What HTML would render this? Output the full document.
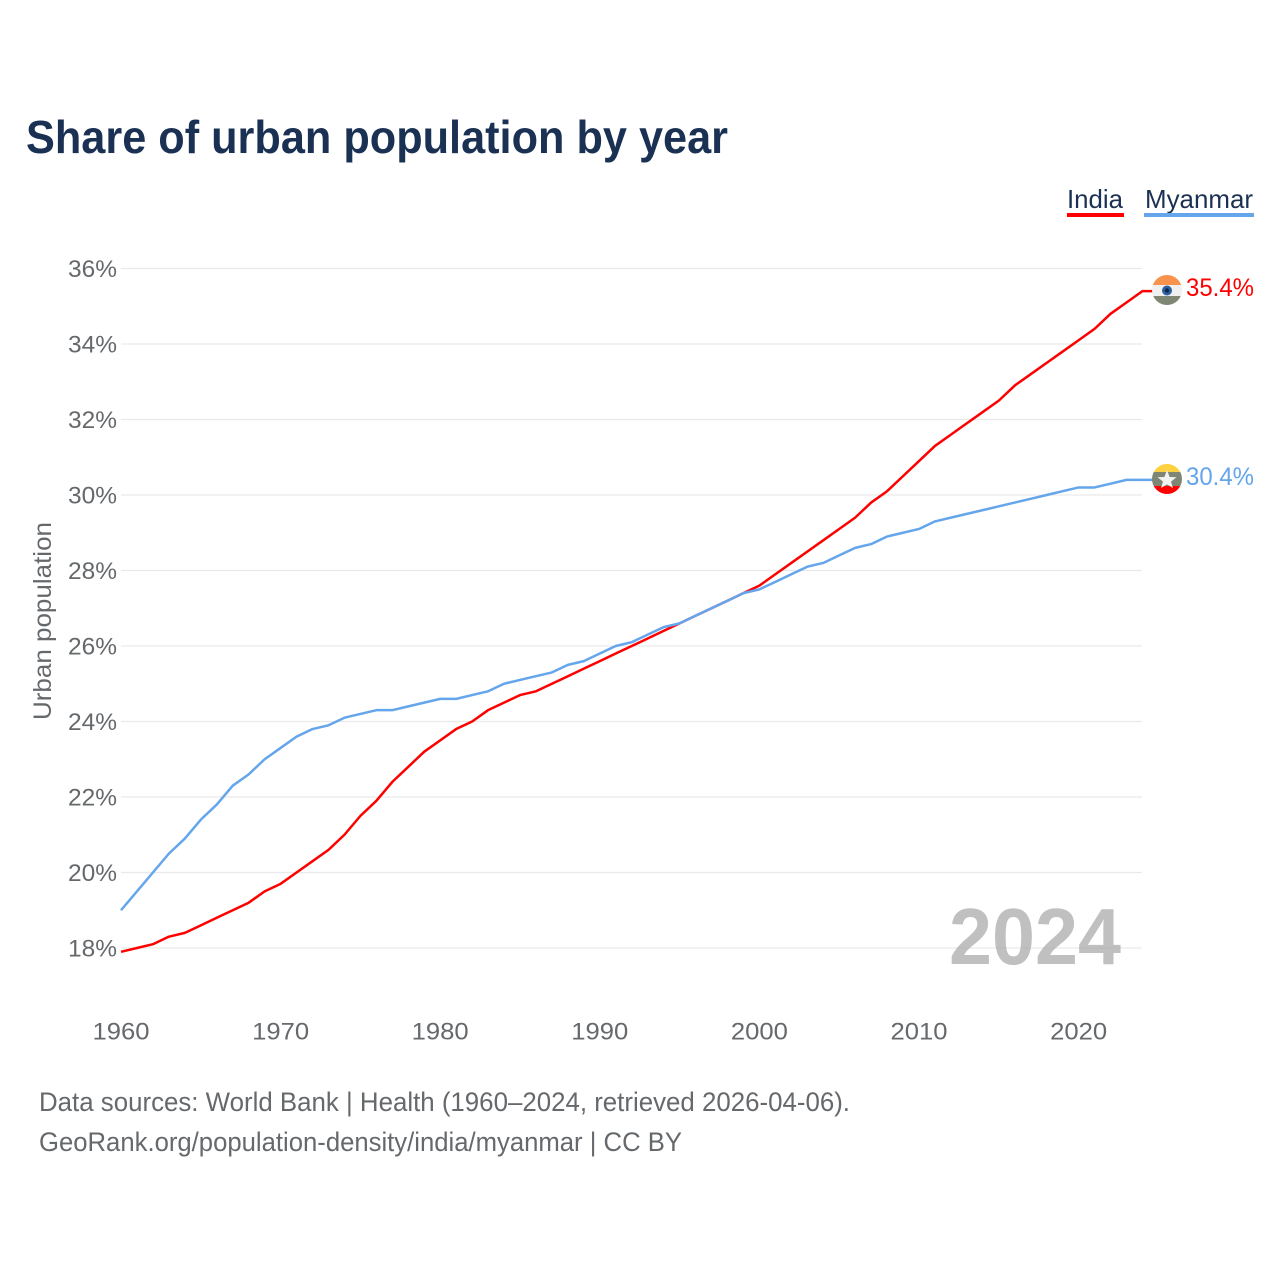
<!DOCTYPE html>
<html lang="en">
<head>
<meta charset="utf-8">
<title>Share of urban population by year</title>
<style>
html,body{margin:0;padding:0;background:#fff;width:1280px;height:1280px;overflow:hidden}
svg{display:block}
text{font-family:"Liberation Sans",sans-serif}
</style>
</head>
<body>
<svg id="chart" xmlns="http://www.w3.org/2000/svg" width="1280" height="1280" viewBox="0 0 1280 1280">
  <defs>
    <clipPath id="clip-india"><circle cx="1167" cy="290" r="15"/></clipPath>
    <clipPath id="clip-myanmar"><circle cx="1167" cy="479" r="15"/></clipPath>
  </defs>
  <text x="26" y="153" font-size="46" font-weight="700" fill="#1b3153" textLength="702" lengthAdjust="spacingAndGlyphs">Share of urban population by year</text>

  <g>
    <g>
      <text x="1067" y="208" font-size="26" fill="#1b3153" textLength="56" lengthAdjust="spacingAndGlyphs">India</text>
      <rect x="1067" y="213" width="57" height="4" fill="#ff0000"/>
    </g>
    <g>
      <text x="1145" y="208" font-size="26" fill="#1b3153" textLength="108" lengthAdjust="spacingAndGlyphs">Myanmar</text>
      <rect x="1144" y="213" width="110" height="4" fill="#64a5ec"/>
    </g>
  </g>

  <g id="grid"></g>
  <g id="y-ticks"></g>
  <g id="x-ticks"></g>

  <text transform="translate(51,621) rotate(-90)" text-anchor="middle" font-size="25" fill="#66696c" textLength="198" lengthAdjust="spacingAndGlyphs">Urban population</text>

  <text x="949" y="964" font-size="80" font-weight="700" fill="#a8a8a8" fill-opacity="0.72" textLength="172" lengthAdjust="spacingAndGlyphs">2024</text>

  <g id="series"></g>

  <g clip-path="url(#clip-india)">
    <rect x="1152" y="275" width="30" height="10" fill="#f8924d"/>
    <rect x="1152" y="285" width="30" height="11" fill="#f0f0f0"/>
    <rect x="1152" y="296" width="30" height="10" fill="#7f8674"/>
    <circle cx="1167" cy="290.5" r="5" fill="#2c5f9e"/>
    <circle cx="1167" cy="290.5" r="2.2" fill="#10254d"/>
  </g>
  <g clip-path="url(#clip-myanmar)">
    <rect x="1152" y="464" width="30" height="8" fill="#fed141"/>
    <rect x="1152" y="472" width="30" height="14" fill="#7f8674"/>
    <rect x="1152" y="486" width="30" height="9" fill="#fe0000"/>
    <polygon points="1167,470 1169.6,477 1176.5,477.2 1171,481.6 1173,488 1167,484.4 1161,488 1163,481.6 1157.5,477.2 1164.4,477" fill="#f2f2f2"/>
  </g>

  <text id="end-label-india" x="1186" y="296" font-size="25" fill="#ff0000" textLength="68" lengthAdjust="spacingAndGlyphs"></text>
  <text id="end-label-myanmar" x="1186" y="485" font-size="25" fill="#64a5ec" textLength="68" lengthAdjust="spacingAndGlyphs"></text>

  <text x="39" y="1111" font-size="27" fill="#66696c" textLength="811" lengthAdjust="spacingAndGlyphs">Data sources: World Bank | Health (1960–2024, retrieved 2026-04-06).</text>
  <text x="39" y="1151" font-size="27" fill="#66696c" textLength="643" lengthAdjust="spacingAndGlyphs">GeoRank.org/population-density/india/myanmar | CC BY</text>
</svg>
<script>
const startYear = 1960;
const indiaValues = [17.9,18.0,18.1,18.3,18.4,18.6,18.8,19.0,19.2,19.5,19.7,20.0,20.3,20.6,21.0,21.5,21.9,22.4,22.8,23.2,23.5,23.8,24.0,24.3,24.5,24.7,24.8,25.0,25.2,25.4,25.6,25.8,26.0,26.2,26.4,26.6,26.8,27.0,27.2,27.4,27.6,27.9,28.2,28.5,28.8,29.1,29.4,29.8,30.1,30.5,30.9,31.3,31.6,31.9,32.2,32.5,32.9,33.2,33.5,33.8,34.1,34.4,34.8,35.1,35.4];
const myanmarValues = [19.0,19.5,20.0,20.5,20.9,21.4,21.8,22.3,22.6,23.0,23.3,23.6,23.8,23.9,24.1,24.2,24.3,24.3,24.4,24.5,24.6,24.6,24.7,24.8,25.0,25.1,25.2,25.3,25.5,25.6,25.8,26.0,26.1,26.3,26.5,26.6,26.8,27.0,27.2,27.4,27.5,27.7,27.9,28.1,28.2,28.4,28.6,28.7,28.9,29.0,29.1,29.3,29.4,29.5,29.6,29.7,29.8,29.9,30.0,30.1,30.2,30.2,30.3,30.4,30.4];
const yTickValues = [18,20,22,24,26,28,30,32,34,36];
const xTickValues = [1960,1970,1980,1990,2000,2010,2020];

const NS = 'http://www.w3.org/2000/svg';
function xScale(year){ return 121 + (year - 1960) * 15.96; }
function yScale(v){ return 948 - (v - 18) * 37.75; }

const gridGroup = document.getElementById('grid');
const yTickGroup = document.getElementById('y-ticks');
const xTickGroup = document.getElementById('x-ticks');
const seriesGroup = document.getElementById('series');

yTickValues.forEach(function(v){
  const line = document.createElementNS(NS, 'line');
  
  
  line.setAttribute('x1', 121);
  line.setAttribute('x2', 1142);
  line.setAttribute('y1', yScale(v));
  line.setAttribute('y2', yScale(v));
  line.setAttribute('stroke', '#e9e9e9');
  line.setAttribute('stroke-width', '1.3');
  gridGroup.appendChild(line);

  const label = document.createElementNS(NS, 'text');
  
  
  label.setAttribute('x', 117);
  label.setAttribute('y', yScale(v) + 8.5);
  label.setAttribute('text-anchor', 'end');
  label.setAttribute('font-size', '24');
  label.setAttribute('fill', '#66696c');
  label.setAttribute('textLength', '49');
  label.setAttribute('lengthAdjust', 'spacingAndGlyphs');
  label.textContent = v + '%';
  yTickGroup.appendChild(label);
});

xTickValues.forEach(function(year){
  const label = document.createElementNS(NS, 'text');
  
  
  label.setAttribute('x', xScale(year));
  label.setAttribute('y', 1039.5);
  label.setAttribute('text-anchor', 'middle');
  label.setAttribute('font-size', '24');
  label.setAttribute('fill', '#66696c');
  label.setAttribute('textLength', '57');
  label.setAttribute('lengthAdjust', 'spacingAndGlyphs');
  label.textContent = year;
  xTickGroup.appendChild(label);
});

function seriesPoints(values){
  const pts = values.map(function(v, i){
    return xScale(startYear + i).toFixed(2) + ',' + yScale(v).toFixed(2);
  });
  pts.push('1153,' + yScale(values[values.length - 1]).toFixed(2));
  return pts.join(' ');
}

const indiaLine = document.createElementNS(NS, 'polyline');


indiaLine.setAttribute('points', seriesPoints(indiaValues));
indiaLine.setAttribute('fill', 'none');
indiaLine.setAttribute('stroke', '#ff0000');
indiaLine.setAttribute('stroke-width', '2.5');
indiaLine.setAttribute('stroke-linejoin', 'round');
seriesGroup.appendChild(indiaLine);

const myanmarLine = document.createElementNS(NS, 'polyline');


myanmarLine.setAttribute('points', seriesPoints(myanmarValues));
myanmarLine.setAttribute('fill', 'none');
myanmarLine.setAttribute('stroke', '#64a5ec');
myanmarLine.setAttribute('stroke-width', '2.5');
myanmarLine.setAttribute('stroke-linejoin', 'round');
seriesGroup.appendChild(myanmarLine);

document.getElementById('end-label-india').textContent = indiaValues[indiaValues.length - 1].toFixed(1) + '%';
document.getElementById('end-label-myanmar').textContent = myanmarValues[myanmarValues.length - 1].toFixed(1) + '%';
</script>
</body>
</html>
